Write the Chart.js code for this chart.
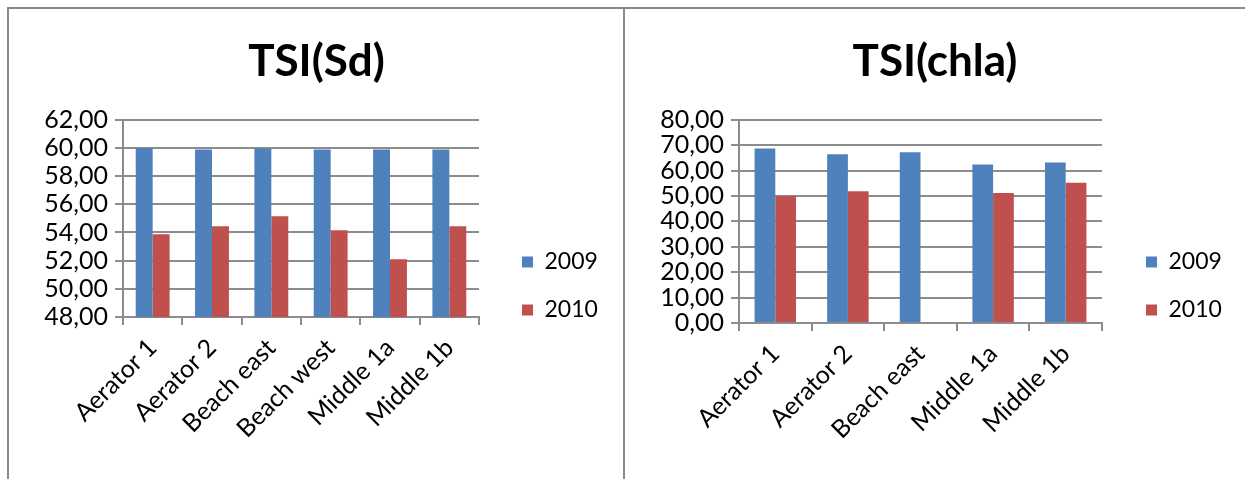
<!DOCTYPE html>
<html>
<head>
<meta charset="utf-8">
<script src="https://cdn.jsdelivr.net/npm/chart.js@4/dist/chart.umd.min.js"></script>
<style>
  html, body { margin: 0; padding: 0; background: #fff; overflow: hidden; }
  body { width: 1245px; height: 479px; position: relative; }
  .frame { position: absolute; border-top: 2px solid #8a8a8a; border-left: 2px solid #8a8a8a; box-sizing: border-box; }
  #frameSd { left: 7px; top: 7px; width: 617px; height: 560px; }
  #frameChla { left: 623px; top: 7px; width: 630px; height: 560px; }
  canvas { position: absolute; }
  #cSd { left: 9px; top: 9px; }
  #cChla { left: 625px; top: 9px; }
</style>
</head>
<body>
<div class="frame" id="frameSd"></div>
<div class="frame" id="frameChla"></div>
<canvas id="cSd" width="615" height="554"></canvas>
<canvas id="cChla" width="620" height="554"></canvas>
<script>
// Sampling sites and trophic state index values per year
const sitesSd = ['Aerator 1', 'Aerator 2', 'Beach east', 'Beach west', 'Middle 1a', 'Middle 1b'];
const sd2009 = [60.00, 59.90, 59.96, 59.90, 59.90, 59.90];
const sd2010 = [53.88, 54.45, 55.16, 54.16, 52.10, 54.45];

const sitesChla = ['Aerator 1', 'Aerator 2', 'Beach east', 'Middle 1a', 'Middle 1b'];
const chla2009 = [68.70, 66.40, 67.20, 62.40, 63.20];
const chla2010 = [50.00, 51.90, null, 51.20, 55.20];

const yearLabels = ['2009', '2010'];
const sdTicks = { min: 48, max: 62, step: 2 };
const chlaTicks = { min: 0, max: 80, step: 10 };

const BLUE = '#4F81BD';
const RED = '#C0504D';
const GRID = '#8c8c8c';

Chart.defaults.font.family = 'Lato, "Open Sans", sans-serif';
Chart.defaults.color = '#000';

const comma = v => Number(v).toFixed(2).replace('.', ',');

// Gives the side legend a fixed width so the plot area keeps its size.
const legendWidth = {
  id: 'legendWidth',
  afterInit(chart, args, opts) {
    const legend = chart.legend;
    if (!legend || !opts.width) return;
    const fit = legend.fit;
    legend.fit = function () {
      fit.call(this);
      this.width = opts.width;
      this.right = this.left + this.width;
    };
  }
};

function makeChart(id, title, labels, a, b, range, cfg) {
  return new Chart(document.getElementById(id), {
    type: 'bar',
    plugins: [legendWidth],
    data: {
      labels: labels,
      datasets: [
        { label: yearLabels[0], data: a, backgroundColor: BLUE, categoryPercentage: 0.571, barPercentage: 1.0 },
        { label: yearLabels[1], data: b, backgroundColor: RED, categoryPercentage: 0.571, barPercentage: 1.0 }
      ]
    },
    options: {
      responsive: false,
      animation: false,
      layout: { padding: 0 },
      plugins: {
        legendWidth: { width: cfg.legendWidth },
        title: {
          display: true,
          text: title,
          font: { size: 44, weight: 'bold' },
          color: '#000',
          padding: { top: 26, bottom: 32 }
        },
        legend: {
          position: 'right',
          align: 'center',
          labels: {
            boxWidth: 11,
            boxHeight: 11,
            padding: 25,
            font: { size: 23 },
            color: '#000'
          }
        },
        tooltip: { enabled: false }
      },
      scales: {
        x: {
          grid: { display: true, drawOnChartArea: false, drawTicks: true, tickLength: 8, color: GRID, lineWidth: 2 },
          border: { display: true, color: GRID, width: 2 },
          ticks: { minRotation: 45, maxRotation: 45, autoSkip: false, font: { size: 25 }, color: '#000', padding: 8 },
          afterFit: s => { s.height = cfg.xHeight; }
        },
        y: {
          min: range.min,
          max: range.max,
          grid: { color: GRID, lineWidth: 2, tickLength: 8 },
          border: { display: true, color: GRID, width: 2 },
          ticks: { stepSize: range.step, autoSkip: false, font: { size: 25 }, color: '#000', padding: 7, callback: v => comma(v) },
          afterFit: s => { s.width = cfg.yWidth; }
        },
        gap: {
          type: 'linear',
          position: 'right',
          display: true,
          grid: { display: false },
          border: { display: false },
          ticks: { display: false },
          afterFit: s => { s.width = cfg.gap; }
        }
      }
    }
  });
}

makeChart('cSd', 'TSI(Sd)', sitesSd, sd2009, sd2010, sdTicks,
  { yWidth: 114, xHeight: 246, gap: 18, legendWidth: 127 });
makeChart('cChla', 'TSI(chla)', sitesChla, chla2009, chla2010, chlaTicks,
  { yWidth: 114, xHeight: 240, gap: 19, legendWidth: 124 });
</script>
</body>
</html>
